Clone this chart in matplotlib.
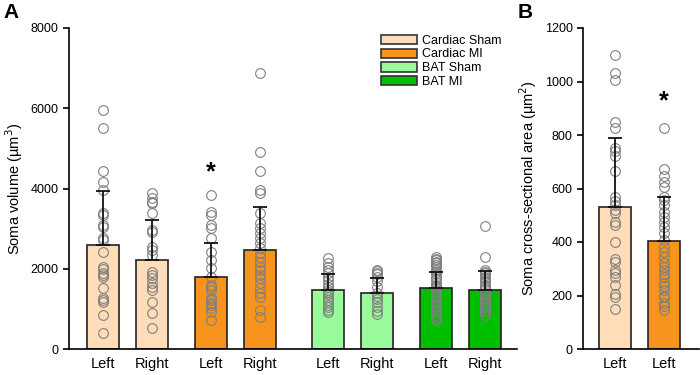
import numpy as np
import matplotlib.pyplot as plt

plt.rcParams['font.family'] = ['Liberation Sans', 'DejaVu Sans']

# Panel A: soma volume (um^3)
groups = ['Cardiac Sham', 'Cardiac MI', 'BAT Sham', 'BAT MI']
colors = ['#FFDDB9', '#F7941D', '#99FB99', '#00BE00']
side_labels = ['Left', 'Right', 'Left', 'Right', 'Left', 'Right', 'Left', 'Right']
vol_mean = [2580, 2220, 1790, 2470, 1460, 1390, 1510, 1470]
vol_sd = [1350, 990, 840, 1080, 420, 370, 410, 475]

vol_pts = [
    [5950, 5500, 4430, 4150, 3960, 3390, 3340, 3090, 3040, 2770, 2720, 2420,
     2040, 2000, 1890, 1850, 1800, 1520, 1270, 1220, 1180, 850, 400],
    [3890, 3760, 3660, 3640, 3390, 2970, 2920, 2540, 2470, 2340, 1920, 1840,
     1770, 1640, 1550, 1470, 1170, 900, 520],
    [3840, 3410, 3340, 3090, 3020, 2770, 2420, 2220, 2020, 1790, 1600, 1550,
     1470, 1270, 1220, 1150, 1100, 1020, 920, 720],
    [6880, 4910, 4440, 3960, 3890, 3390, 3140, 3020, 2890, 2770, 2640, 2520,
     2390, 2290, 2170, 2040, 1970, 1840, 1770, 1640, 1520, 1400, 1300, 970, 800],
    [2270, 2150, 2040, 1960, 1890, 1800, 1720, 1630, 1550, 1480, 1420, 1360,
     1300, 1230, 1170, 1100, 1050, 980, 920],
    [1970, 1940, 1900, 1860, 1800, 1700, 1550, 1400, 1330, 1250, 1170, 1050,
     950, 870],
    [2290, 2250, 2220, 2180, 2140, 2090, 2040, 1980, 1920, 1860, 1800, 1740,
     1670, 1600, 1560, 1520, 1470, 1420, 1350, 1290, 1220, 1160, 1100, 1040,
     970, 910, 850, 780, 720],
    [3070, 2290, 1970, 1930, 1890, 1850, 1800, 1760, 1720, 1660, 1600, 1560,
     1520, 1460, 1400, 1330, 1270, 1220, 1170, 1110, 1050, 980, 920, 850],
]

# Panel B: soma cross-sectional area (um^2)
area_labels = ['Left', 'Left']
area_mean = [530, 405]
area_sd = [260, 162]
area_pts = [
    [1100, 1030, 1005, 850, 825, 750, 740, 720, 665, 570, 555, 540, 520, 510,
     475, 465, 400, 335, 325, 295, 285, 270, 240, 205, 195, 148],
    [826, 673, 645, 625, 606, 568, 557, 538, 512, 493, 475, 456, 434, 407,
     381, 363, 344, 320, 307, 295, 280, 269, 247, 235, 220, 200, 194, 172,
     160, 146],
]

pos_a = np.array([0, 1, 2.2, 3.2, 4.6, 5.6, 6.8, 7.8])
pos_b = np.array([0, 1])
bw = 0.65

fig = plt.figure(figsize=(7, 3.75), dpi=100)
axA = fig.add_axes([69 / 700, 1 - 349 / 375, 448 / 700, 321 / 375])
axB = fig.add_axes([583 / 700, 1 - 349 / 375, 116 / 700, 321 / 375])


def draw(ax, pos, means, sds, pts, cols):
    ax.bar(pos, means, width=bw, color=cols, edgecolor='#222222', linewidth=1.2, zorder=2)
    for x, p in zip(pos, pts):
        ax.plot(np.full(len(p), x), p, 'o', mfc='none', mec='#808080',
                ms=7, mew=0.8, zorder=3)
    ax.errorbar(pos, means, yerr=[np.zeros(len(sds)), sds], fmt='none',
                ecolor='#111111', elinewidth=1.3, capsize=5, capthick=1.3, zorder=4)
    for s in ['top', 'right']:
        ax.spines[s].set_visible(False)
    for s in ['left', 'bottom']:
        ax.spines[s].set_linewidth(1.2)
    ax.tick_params(axis='y', labelsize=9, length=4, width=1.2)
    ax.tick_params(axis='x', labelsize=10.5, length=0, pad=6)


bar_cols_a = [colors[i // 2] for i in range(8)]
draw(axA, pos_a, vol_mean, vol_sd, vol_pts, bar_cols_a)
axA.set_xticks(pos_a)
axA.set_xticklabels(side_labels)
axA.set_xlim(-0.69, 8.45)
axA.set_ylim(0, 8000)
axA.set_yticks([0, 2000, 4000, 6000, 8000])
axA.set_ylabel('Soma volume (\u00b5m$^3$)', fontsize=10.5)
axA.text(pos_a[2], 4400, '*', ha='center', va='center', fontsize=18, fontweight='bold')

handles = [plt.Rectangle((0, 0), 1, 1, facecolor=c, edgecolor='#333333', linewidth=1.2)
           for c in colors]
axA.legend(handles, groups, loc='upper left', bbox_to_anchor=(0.685, 0.995),
           frameon=False, fontsize=9, handlelength=2.9, handleheight=0.75,
           labelspacing=0.15, handletextpad=0.4, borderaxespad=0)

draw(axB, pos_b, area_mean, area_sd, area_pts, [colors[0], colors[1]])
axB.set_xticks(pos_b)
axB.set_xticklabels(area_labels)
axB.set_xlim(-0.65, 1.72)
axB.set_ylim(0, 1200)
axB.set_yticks([0, 200, 400, 600, 800, 1000, 1200])
axB.set_ylabel('Soma cross-sectional area (\u00b5m$^2$)', fontsize=10.5)
axB.text(pos_b[1], 925, '*', ha='center', va='center', fontsize=18, fontweight='bold')

fig.text(3 / 700, 1 - 12 / 375, 'A', fontsize=15, fontweight='bold', va='center')
fig.text(518 / 700, 1 - 12 / 375, 'B', fontsize=15, fontweight='bold', va='center')

fig.savefig('out.png', dpi=100)
